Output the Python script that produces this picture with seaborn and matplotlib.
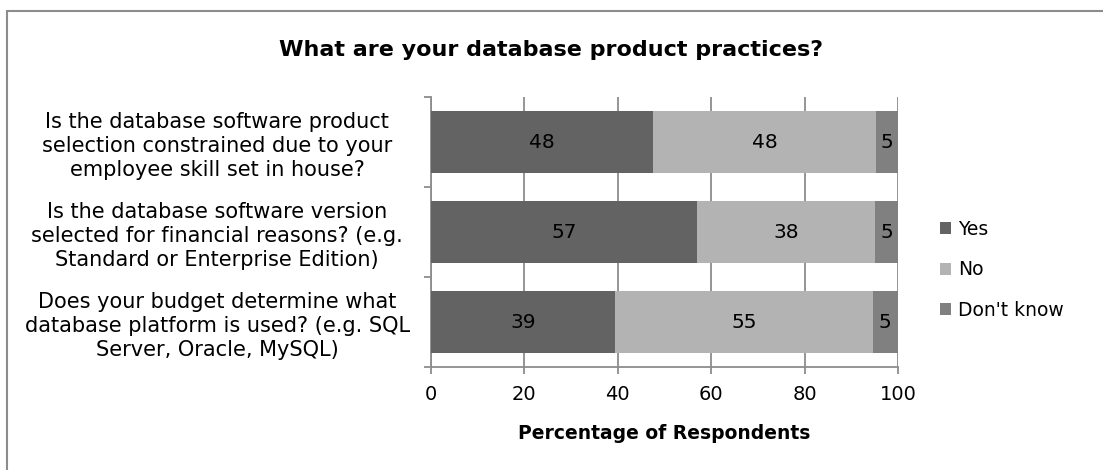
import pandas as pd
import seaborn as sns
import matplotlib.pyplot as plt
from matplotlib.patches import Rectangle
from matplotlib.ticker import MultipleLocator, FixedLocator

# Data
questions = [
    "Is the database software product\nselection constrained due to your\nemployee skill set in house?",
    "Is the database software version\nselected for financial reasons? (e.g.\nStandard or Enterprise Edition)",
    "Does your budget determine what\ndatabase platform is used? (e.g. SQL\nServer, Oracle, MySQL)",
]
yes = [47.6, 56.9, 39.4]
no = [47.8, 38.2, 55.2]
dont_know = [4.6, 4.9, 5.4]
answers = ["Yes", "No", "Don't know"]
colors = {"Yes": "#636363", "No": "#b3b3b3", "Don't know": "#808080"}

df = pd.DataFrame({"question": questions, "Yes": yes, "No": no, "Don't know": dont_know})
df["cum_yes"] = df["Yes"]
df["cum_no"] = df["Yes"] + df["No"]
df["cum_dk"] = df["cum_no"] + df["Don't know"]

sns.set_style("white")
plt.rcParams["font.family"] = ["DejaVu Sans"]
plt.rcParams["text.color"] = "black"
plt.rcParams["xtick.color"] = "black"
plt.rcParams["ytick.color"] = "black"
plt.rcParams["axes.labelcolor"] = "black"

fig = plt.figure(figsize=(11.03, 4.7), dpi=100)
ax = fig.add_axes([0.3908, 0.2191, 0.4233, 0.5745])

# stacked bars: draw the cumulative totals back to front
for col, name in [("cum_dk", "Don't know"), ("cum_no", "No"), ("cum_yes", "Yes")]:
    sns.barplot(data=df, x=col, y="question", orient="h", color=colors[name],
                width=0.69, ax=ax, label=name, zorder=3, saturation=1, linewidth=0)

# value labels in the middle of each segment
for i, row in df.iterrows():
    start = 0
    for name in answers:
        val = row[name]
        ax.text(start + val / 2, i, f"{round(val):.0f}", ha="center", va="center",
                fontsize=14.5, color="black", zorder=5)
        start += val

ax.set_xlim(0, 100)
ax.set_ylim(2.5, -0.5)
ax.xaxis.set_major_locator(MultipleLocator(20))
ax.grid(axis="x", color="#8c8c8c", linewidth=1.3, zorder=0)
ax.set_axisbelow(True)
for side in ["top", "right"]:
    ax.spines[side].set_visible(False)
for side in ["left", "bottom"]:
    ax.spines[side].set_color("#8c8c8c")
    ax.spines[side].set_linewidth(1.3)

ax.yaxis.set_minor_locator(FixedLocator([-0.5, 0.5, 1.5, 2.5]))
ax.tick_params(axis="y", which="minor", length=5, width=1.3, color="#8c8c8c", left=True)
ax.tick_params(axis="y", which="major", length=0, pad=154)
ax.tick_params(axis="x", which="major", length=5, width=1.3, color="#8c8c8c", bottom=True,
               labelsize=14, pad=8, labelcolor="black")
ax.set_yticks(range(len(questions)))
ax.set_yticklabels(questions, fontsize=15, ha="center", multialignment="center",
                   linespacing=1.25, color="black")

ax.set_ylabel("")
ax.set_xlabel("Percentage of Respondents", fontsize=13.5, fontweight="bold", labelpad=14)

fig.text(0.5, 0.893, "What are your database product practices?", ha="center", va="center",
         fontsize=16, fontweight="bold")

handles, labels = ax.get_legend_handles_labels()
order = [labels.index(a) for a in answers]
ax.legend([handles[k] for k in order], answers, loc="center left", bbox_to_anchor=(1.053, 0.36),
          frameon=False, fontsize=13.5, handlelength=0.6, handleheight=0.6,
          handletextpad=0.4, labelspacing=1.15)

fig.patches.append(Rectangle((7 / 1103, -0.05), 1.2, 1.05 - 11 / 470, transform=fig.transFigure,
                             fill=False, edgecolor="#8c8c8c", linewidth=1.5))

fig.savefig("out.png", dpi=100)
